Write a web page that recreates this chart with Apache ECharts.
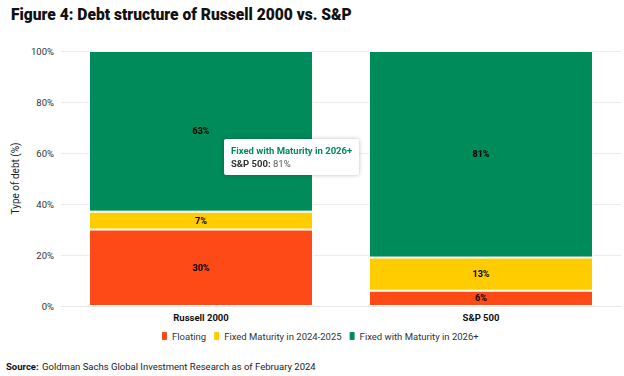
<!DOCTYPE html>
<html><head><meta charset="utf-8">
<script src="https://cdn.jsdelivr.net/npm/echarts@6/dist/echarts.min.js"></script>
<style>html,body{margin:0;padding:0;background:#fff}#c{width:624px;height:376px}</style>
</head><body><div id="c"></div>
<script>
const categories = ['Russell 2000', 'S&P 500'];
const floating = [30, 6];
const fixed2425 = [7, 13];
const fixed2026 = [63, 81];
const yTicks = [0, 20, 40, 60, 80, 100];

const chart = echarts.init(document.getElementById('c'), null, {renderer: 'svg'});
const lbl = {show: true, position: 'inside', formatter: '{c}%', color: '#000', fontWeight: 'bold', fontSize: 9, fontFamily: 'Roboto'};
function ser(name, data, color) {
  return {name, type: 'bar', stack: 's', data, barCategoryGap: '20%',
    itemStyle: {color, borderColor: '#fff', borderWidth: 1}, label: lbl, emphasis: {disabled: true}};
}
chart.setOption({
  animation: false,
  textStyle: {fontFamily: 'Roboto'},
  title: {text: 'Figure 4: Debt structure of Russell 2000 vs. S&P', left: 6, top: 2,
    textStyle: {fontSize: 15.6, fontWeight: 900, color: '#111', fontFamily: 'Roboto'}},
  grid: {left: 61, right: 3, top: 51, bottom: 70},
  tooltip: {trigger: 'item', alwaysShowContent: true, triggerOn: 'none',
    position: [224, 139], padding: [5, 7], borderWidth: 0, backgroundColor: '#fff',
    extraCssText: 'box-shadow:0 0 4px rgba(0,0,0,0.25);border-radius:2px;',
    formatter: function (p) {
      return '<div style="font-family:Roboto;font-size:9.5px;line-height:13px">' +
        '<div style="color:#008b5a;font-weight:bold">' + p.seriesName + '</div>' +
        '<div style="color:#333"><b>' + p.name + ':</b> <span style="color:#555">' + p.value + '%</span></div></div>';
    }},
  legend: {bottom: 29, left: 155, itemWidth: 7, itemHeight: 10, itemGap: 6, icon: 'roundRect',
    textStyle: {fontSize: 9.5, color: '#333', padding: [0, 0, 0, -1]}},
  xAxis: {type: 'category', data: categories,
    axisLine: {lineStyle: {color: '#e6e6e6'}},
    axisTick: {alignWithLabel: true, lineStyle: {color: '#e6e6e6'}, length: 4},
    axisLabel: {fontWeight: 'bold', fontSize: 9.5, color: '#111', margin: 6}},
  yAxis: {type: 'value', min: 0, max: 100, interval: 20,
    name: 'Type of debt (%)', nameLocation: 'middle', nameGap: 40, nameRotate: 90,
    nameTextStyle: {fontSize: 10, color: '#222'},
    splitLine: {lineStyle: {color: '#ececec'}},
    axisLabel: {formatter: v => yTicks.includes(v) ? v + '%' : '', fontSize: 9.5, color: '#333', margin: 7}},
  series: [
    ser('Floating', floating, '#fe4a16'),
    ser('Fixed Maturity in 2024-2025', fixed2425, '#ffcc00'),
    ser('Fixed with Maturity in 2026+', fixed2026, '#008b5a')
  ],
  graphic: [
    {type: 'text', left: 6, top: 360, style: {
    rich: {b: {fontWeight: 'bold', fontSize: 9.5, fill: '#111', fontFamily: 'Roboto'},
           n: {fontSize: 9.5, fill: '#222', fontFamily: 'Roboto'}},
    text: '{b|Source:} {n|Goldman Sachs Global Investment Research as of February 2024}'}}]
});
chart.dispatchAction({type: 'showTip', seriesIndex: 2, dataIndex: 1});
</script></body></html>
